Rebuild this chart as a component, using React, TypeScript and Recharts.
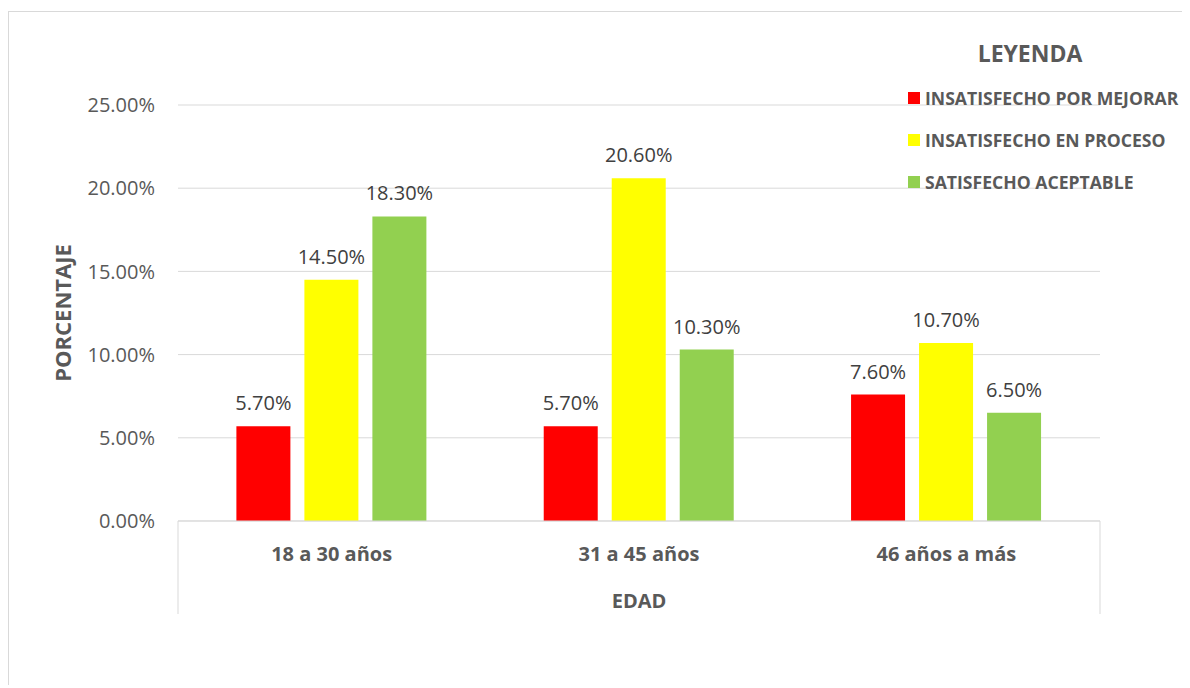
import React from 'react';
import { BarChart, Bar, XAxis, YAxis, CartesianGrid, Legend, LabelList, Label } from 'recharts';

const categories = ['18 a 30 años', '31 a 45 años', '46 años a más'];
const porMejorar = [5.7, 5.7, 7.6];
const enProceso = [14.5, 20.6, 10.7];
const aceptable = [18.3, 10.3, 6.5];
const yTicks = [0, 5, 10, 15, 20, 25];

const series = [
  { key: 'porMejorar', name: 'INSATISFECHO POR MEJORAR', color: '#FF0000' },
  { key: 'enProceso', name: 'INSATISFECHO EN PROCESO', color: '#FFFF00' },
  { key: 'aceptable', name: 'SATISFECHO ACEPTABLE', color: '#92D050' },
];

const data = categories.map((edad, i) => ({
  edad,
  porMejorar: porMejorar[i],
  enProceso: enProceso[i],
  aceptable: aceptable[i],
}));

const FONT = '"Open Sans", sans-serif';
const GRID = '#d9d9d9';
const TEXT = '#595959';

const pct = (v: number) => `${v.toFixed(2)}%`;

const CategoryTick = (props: any) => {
  const { x, y, payload, index } = props;
  const half = payload.offset ?? 0;
  const last = index === categories.length - 1;
  return (
    <g>
      {index === 0 && <line x1={x - half} x2={x - half} y1={y} y2={y + 93} stroke={GRID} />}
      {last && <line x1={x + half} x2={x + half} y1={y} y2={y + 93} stroke={GRID} />}
      <text x={x} y={y + 32} textAnchor="middle" dominantBaseline="central"
        fontFamily={FONT} fontSize={20} fontWeight={700} fill={TEXT}>
        {payload.value}
      </text>
    </g>
  );
};

const LegendBox = () => (
  <div style={{ fontFamily: FONT, color: TEXT, fontWeight: 700 }}>
    <div style={{ width: 244, textAlign: 'center', fontSize: 23, lineHeight: '32px', marginBottom: 8 }}>
      LEYENDA
    </div>
    {series.map((s) => (
      <div key={s.key} style={{ display: 'flex', alignItems: 'center', height: 42, fontSize: 17.6, whiteSpace: 'nowrap' }}>
        <span style={{ width: 12, height: 12, flexShrink: 0, background: s.color, marginRight: 5, display: 'inline-block' }} />
        {s.name}
      </div>
    ))}
  </div>
);

export default function App() {
  return (
    <div style={{ position: 'relative', top: 3, width: 1181, height: 676, borderTop: `1px solid ${GRID}`, borderLeft: `1px solid ${GRID}` }}>
      <BarChart width={1180} height={670} data={data}
        margin={{ top: 93, right: 89, left: 29, bottom: 61 }}
        barCategoryGap="19%" barGap={14}>
        <CartesianGrid vertical={false} stroke={GRID} />
        <XAxis dataKey="edad" height={100} tickSize={0} tickMargin={0}
          axisLine={{ stroke: GRID }} tick={<CategoryTick />} interval={0}>
          <Label content={({ viewBox }: any) => (
            <text x={viewBox.x + viewBox.width / 2} y={viewBox.y + 79} textAnchor="middle"
              dominantBaseline="central" fontFamily={FONT} fontSize={20} fontWeight={700} fill={TEXT}>
              EDAD
            </text>
          )} />
        </XAxis>
        <YAxis width={140} domain={[0, 25]} ticks={yTicks} tickFormatter={pct}
          axisLine={false} tickLine={false} tickSize={0} tickMargin={23}
          tick={{ fontFamily: FONT, fontSize: 20, fill: TEXT }}>
          <Label content={({ viewBox }: any) => {
            const cx = viewBox.x + 24;
            const cy = viewBox.y + viewBox.height / 2;
            return (
              <text x={cx} y={cy} transform={`rotate(-90 ${cx} ${cy})`} textAnchor="middle"
                dominantBaseline="central" fontFamily={FONT} fontSize={22} fontWeight={700} fill={TEXT}>
                PORCENTAJE
              </text>
            );
          }} />
        </YAxis>
        <Legend layout="vertical" verticalAlign="middle" align="center"
          content={<LegendBox />}
          wrapperStyle={{ position: 'absolute', left: 899, top: 25, width: 280, height: 170 }} />
        {series.map((s) => (
          <Bar key={s.key} dataKey={s.key} name={s.name} fill={s.color} isAnimationActive={false}>
            <LabelList dataKey={s.key} position="top" offset={16} formatter={(v: any) => pct(Number(v))}
              style={{ fontFamily: FONT, fontSize: 20, fill: '#404040' }} />
          </Bar>
        ))}
      </BarChart>
    </div>
  );
}
